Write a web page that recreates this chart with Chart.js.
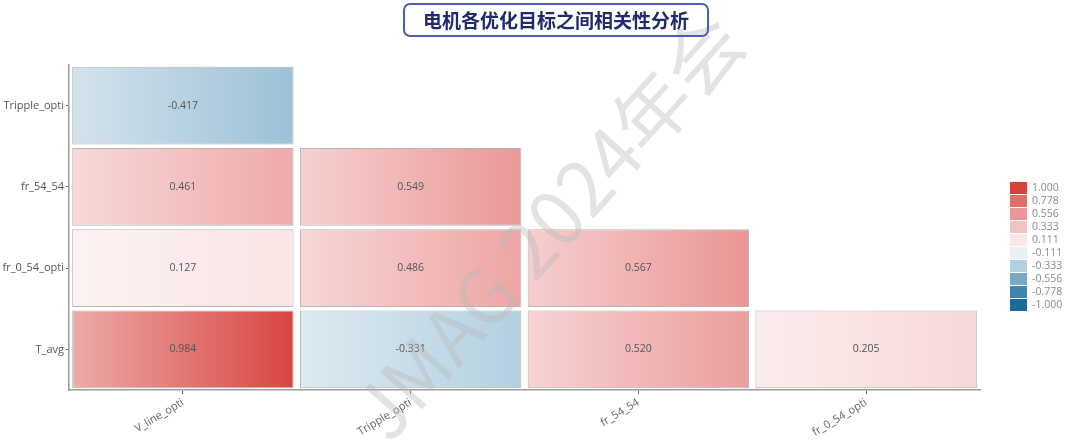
<!DOCTYPE html>
<html>
<head>
<meta charset="utf-8">
<script src="https://cdn.jsdelivr.net/npm/chart.js@4.4.1/dist/chart.umd.min.js"></script>
<style>
  body { margin: 0; background: #fff; }
  #wrap { position: relative; width: 1080px; height: 442px; }
  #title {
    position: absolute; left: 403px; top: 3px; width: 302px; height: 30px;
    border: 2px solid #4f5bb5; border-radius: 7px;
    font: bold 19px "Noto Sans CJK SC", sans-serif; color: #1e2b6c;
    text-align: center; line-height: 30px;
  }
  canvas { position: absolute; left: 0; top: 0; }
</style>
</head>
<body>
<div id="wrap">
  <canvas id="c" width="1080" height="442"></canvas>
  <div id="title">电机各优化目标之间相关性分析</div>
</div>
<script>
const colLabels = ["V_line_opti", "Tripple_opti", "fr_54_54", "fr_0_54_opti"];
const rowLabels = ["Tripple_opti", "fr_54_54", "fr_0_54_opti", "T_avg"];

// one array per column, top row first (null = empty upper triangle)
const vLineOpti = [-0.417, 0.461, 0.127, 0.984];
const trippleOpti = [null, 0.549, 0.486, -0.331];
const fr5454 = [null, null, 0.567, 0.520];
const fr054Opti = [null, null, null, 0.205];

const keyTicks = [1, 0.778, 0.556, 0.333, 0.111, -0.111, -0.333, -0.556, -0.778, -1];
const keyColors = ["#d7423d", "#e06d6a", "#ea9796", "#f3c3c3", "#fbe7e7",
                   "#e7f0f5", "#b3d0e0", "#78a8c5", "#3f85ae", "#1b6a98"];

const hexRgb = h => [1, 3, 5].map(i => parseInt(h.slice(i, i + 2), 16));
const mix = (a, b, t) => a.map((c, i) => Math.round(c + (b[i] - c) * t));
const rgb = c => `rgb(${c[0]},${c[1]},${c[2]})`;

function colorFor(v) {
  v = Math.max(-1, Math.min(1, v));
  for (let i = 0; i < keyTicks.length - 1; i++) {
    if (v <= keyTicks[i] && v >= keyTicks[i + 1]) {
      const t = (keyTicks[i] - v) / (keyTicks[i] - keyTicks[i + 1]);
      return mix(hexRgb(keyColors[i]), hexRgb(keyColors[i + 1]), t);
    }
  }
  return v > 0 ? hexRgb(keyColors[0]) : hexRgb(keyColors[keyColors.length - 1]);
}

const cellFill = ctx => {
  const { chart, raw } = ctx;
  if (!raw) return "#fff";
  const c = colorFor(raw.v);
  if (!chart.chartArea) return rgb(c);
  const xs = chart.scales.x;
  const g = chart.ctx.createLinearGradient(xs.getPixelForValue(raw.x[0]), 0, xs.getPixelForValue(raw.x[1]), 0);
  g.addColorStop(0, rgb(mix(c, [255, 255, 255], 0.55)));
  g.addColorStop(1, rgb(c));
  return g;
};

const columns = [vLineOpti, trippleOpti, fr5454, fr054Opti];
const datasets = columns.map((vals, j) => ({
  label: colLabels[j],
  data: vals
    .map((v, i) => (v === null ? null : { x: [j + 0.014, j + 0.986], y: rowLabels[i], v }))
    .filter(d => d !== null),
  backgroundColor: cellFill,
  borderColor: "rgba(120,120,120,0.55)",
  borderWidth: 1,
  borderSkipped: false,
  grouped: false,
  barPercentage: 0.955,
  categoryPercentage: 1
}));

const tickFont = { family: "'Open Sans', sans-serif", size: 11 };

const cellValues = {
  id: "cellValues",
  afterDatasetsDraw(chart) {
    const { ctx } = chart;
    ctx.save();
    ctx.font = "10.5px 'Open Sans', sans-serif";
    ctx.fillStyle = "#555";
    ctx.textAlign = "center";
    ctx.textBaseline = "middle";
    chart.data.datasets.forEach((ds, di) => {
      chart.getDatasetMeta(di).data.forEach((el, k) => {
        const p = el.getCenterPoint();
        ctx.fillText(ds.data[k].v.toFixed(3), p.x, p.y);
      });
    });
    ctx.restore();
  }
};

const colorKey = {
  id: "colorKey",
  afterDraw(chart) {
    const { ctx } = chart;
    ctx.save();
    ctx.font = "10.5px 'Open Sans', sans-serif";
    ctx.textBaseline = "middle";
    keyTicks.forEach((t, i) => {
      const y = 182 + i * 13;
      ctx.fillStyle = keyColors[i];
      ctx.fillRect(1010, y, 17, 12);
      ctx.fillStyle = "#8a8a8a";
      ctx.fillText(t.toFixed(3), 1032, y + 6.5);
    });
    ctx.restore();
  }
};

const watermark = {
  id: "watermark",
  afterDraw(chart) {
    const { ctx } = chart;
    ctx.save();
    ctx.translate(548, 226);
    ctx.rotate(-48 * Math.PI / 180);
    ctx.font = "76px 'Noto Sans CJK SC', sans-serif";
    ctx.fillStyle = "rgba(185,185,185,0.4)";
    ctx.textAlign = "center";
    ctx.textBaseline = "middle";
    ctx.fillText("JMAG 2024年会", 0, 0);
    ctx.restore();
  }
};

new Chart(document.getElementById("c"), {
  type: "bar",
  data: { labels: rowLabels, datasets },
  options: {
    indexAxis: "y",
    responsive: false,
    animation: false,
    layout: { padding: { top: 65, right: 100, left: 0, bottom: 0 } },
    plugins: { legend: { display: false }, tooltip: { enabled: false } },
    scales: {
      x: {
        type: "linear",
        min: 0,
        max: 4,
        afterBuildTicks: s => { s.ticks = colLabels.map((_, i) => ({ value: i + 0.5 })); },
        ticks: {
          callback: (v, i) => colLabels[i],
          minRotation: 31,
          maxRotation: 31,
          font: tickFont,
          color: "#666",
          padding: 2
        },
        grid: { drawOnChartArea: false, tickLength: 4, color: "#666" },
        border: { color: "#9c9c9c", width: 1.5 },
        afterFit: s => { s.height = 52; }
      },
      y: {
        type: "category",
        grid: { offset: false, drawOnChartArea: false, tickLength: 3, color: "#666" },
        border: { color: "#9c9c9c", width: 1.5 },
        ticks: { font: tickFont, color: "#555", padding: 2 },
        afterFit: s => { s.width = 69; }
      }
    }
  },
  plugins: [cellValues, colorKey, watermark]
});
</script>
</body>
</html>
